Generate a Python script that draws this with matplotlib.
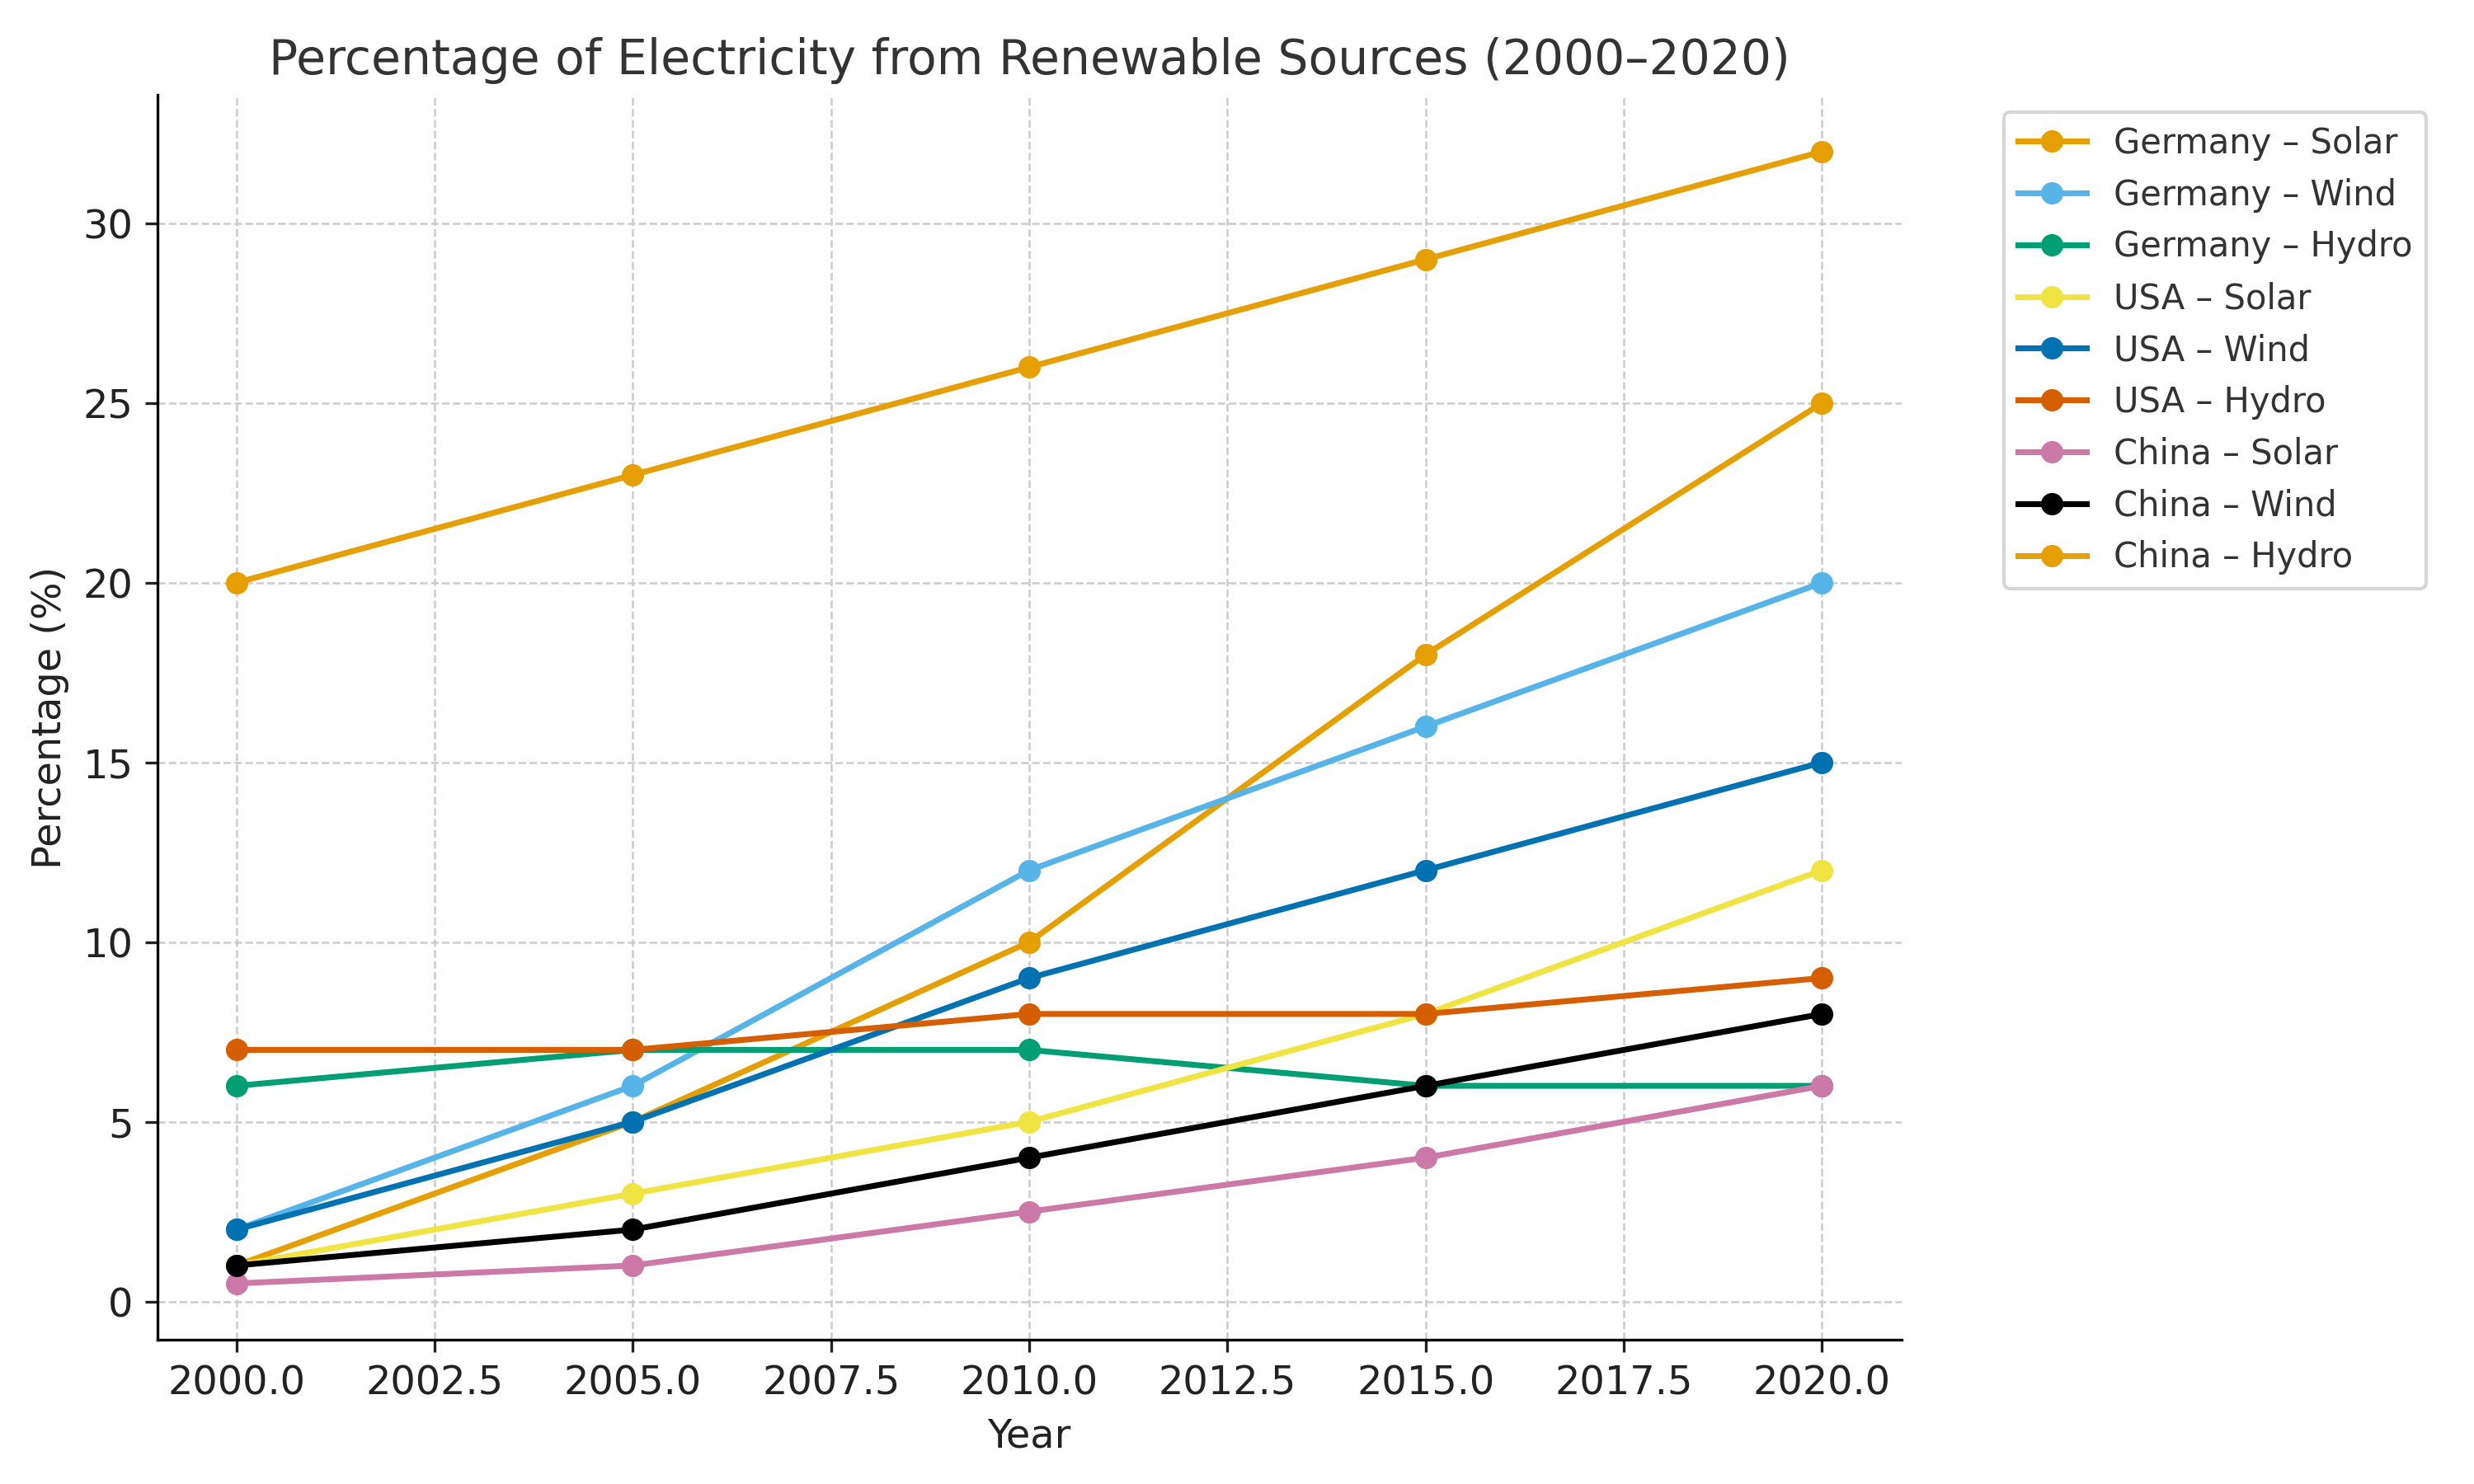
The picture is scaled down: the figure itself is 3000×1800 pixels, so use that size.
import matplotlib
matplotlib.use("Agg")
import matplotlib.pyplot as plt

years = [2000, 2005, 2010, 2015, 2020]

germany_solar = [1, 5, 10, 18, 25]
germany_wind = [2, 6, 12, 16, 20]
germany_hydro = [6, 7, 7, 6, 6]
usa_solar = [1, 3, 5, 8, 12]
usa_wind = [2, 5, 9, 12, 15]
usa_hydro = [7, 7, 8, 8, 9]
china_solar = [0.5, 1, 2.5, 4, 6]
china_wind = [1, 2, 4, 6, 8]
china_hydro = [20, 23, 26, 29, 32]

labels = [
    "Germany – Solar", "Germany – Wind", "Germany – Hydro",
    "USA – Solar", "USA – Wind", "USA – Hydro",
    "China – Solar", "China – Wind", "China – Hydro",
]
series = [
    germany_solar, germany_wind, germany_hydro,
    usa_solar, usa_wind, usa_hydro,
    china_solar, china_wind, china_hydro,
]
colors = [
    "#E69F00", "#56B4E9", "#009E73", "#F0E442", "#0072B2",
    "#D55E00", "#CC79A7", "#000000", "#E69F00",
]

plt.rcParams.update({
    "font.family": "DejaVu Sans",
    "axes.spines.top": False,
    "axes.spines.right": False,
})

fig = plt.figure(figsize=(10, 6), dpi=300)
ax = fig.add_axes([0.0635, 0.097, 0.705, 0.839])

for vals, lab, col in zip(series, labels, colors):
    ax.plot(years, vals, marker="o", color=col, label=lab, linewidth=1.7, markersize=5.5)

ax.grid(True, linestyle="--", color="#cccccc", linewidth=0.6)
ax.set_title("Percentage of Electricity from Renewable Sources (2000–2020)",
             fontsize=14, color="#333333")
ax.set_xlabel("Year", fontsize=11.5, color="#222222")
ax.set_ylabel("Percentage (%)", fontsize=11.5, color="#222222")
ax.tick_params(labelsize=11.5, colors="#222222")

leg = ax.legend(loc="upper left", bbox_to_anchor=(1.049, 1), fontsize=10,
                labelcolor="#333333", handlelength=2.0)
leg.get_frame().set_edgecolor("#cccccc")

fig.savefig("out.png", dpi=300)
